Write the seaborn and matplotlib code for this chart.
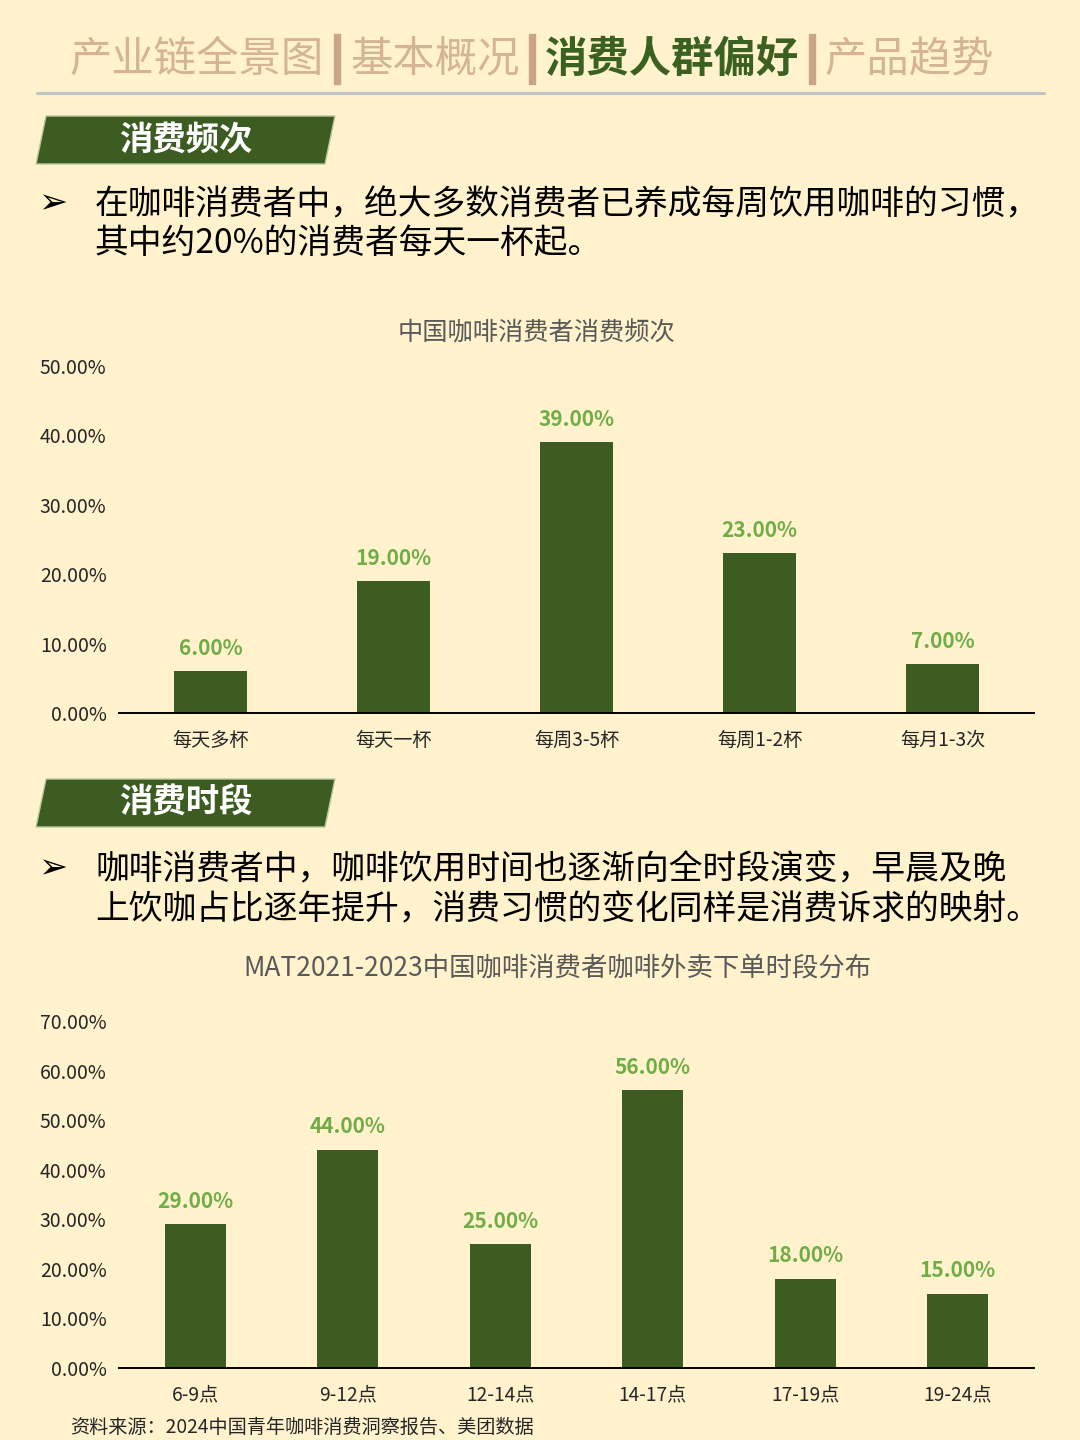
import matplotlib
matplotlib.use("Agg")
import matplotlib.pyplot as plt
from matplotlib.patches import Polygon, Rectangle
from matplotlib.lines import Line2D
import seaborn as sns
import pandas as pd

# ---------------- data ----------------
freq_categories = ["每天多杯", "每天一杯", "每周3-5杯", "每周1-2杯", "每月1-3次"]
freq_values = [6, 19, 39, 23, 7]
freq_yticks = [0, 10, 20, 30, 40, 50]

time_categories = ["6-9点", "9-12点", "12-14点", "14-17点", "17-19点", "19-24点"]
time_values = [29, 44, 25, 56, 18, 15]
time_yticks = [0, 10, 20, 30, 40, 50, 60, 70]

header_items = ["产业链全景图", "基本概况", "消费人群偏好", "产品趋势"]
header_active = 2
section_titles = ["消费频次", "消费时段"]
bullet_texts = [
    ["在咖啡消费者中，绝大多数消费者已养成每周饮用咖啡的习惯，",
     "其中约20%的消费者每天一杯起。"],
    ["咖啡消费者中，咖啡饮用时间也逐渐向全时段演变，早晨及晚",
     "上饮咖占比逐年提升，消费习惯的变化同样是消费诉求的映射。"],
]
chart_titles = ["中国咖啡消费者消费频次", "MAT2021-2023中国咖啡消费者咖啡外卖下单时段分布"]
source_text = "资料来源：2024中国青年咖啡消费洞察报告、美团数据"

# ---------------- style ----------------
BG = "#FFF2CC"
BAR = "#3D5C21"
LABEL = "#70AD47"
TAN = "#D4B396"
TAN_BAR = "#CBA386"
GREEN_HDR = "#3B6121"
TITLE_C = "#595959"
TICK_C = "#262626"

sns.set_theme(style="white")
plt.rcParams["font.family"] = ["Noto Sans CJK SC", "DejaVu Sans"]
plt.rcParams["axes.unicode_minus"] = False

W, H = 1080, 1440
fig = plt.figure(figsize=(W / 100, H / 100), dpi=100)
fig.patch.set_facecolor(BG)


def fx(x):
    return x / W


def fy(y):
    return 1 - y / H


# ---------------- header ----------------
header_x = [70, 350, 545, 825]
for i, (txt, x) in enumerate(zip(header_items, header_x)):
    active = i == header_active
    fig.text(fx(x), fy(60), txt, fontsize=30.5, ha="left", va="center",
             color=GREEN_HDR if active else TAN,
             fontweight="bold" if active else "normal")
for bx in [334, 529, 809]:
    fig.patches.append(Rectangle((fx(bx), fy(84)), fx(6), 50 / H,
                                 transform=fig.transFigure, color=TAN_BAR, zorder=3))
fig.add_artist(Line2D([fx(37), fx(1044)], [fy(93), fy(93)], transform=fig.transFigure,
                      color="#BFC3C6", linewidth=2.2))

# ---------------- section banners & bullets ----------------
banner_tops = [116, 779]
bullet_lines_y = [(205, 243), (870, 910)]
for title, top, lines, ys in zip(section_titles, banner_tops, bullet_texts, bullet_lines_y):
    bot = top + 48
    poly = Polygon([(fx(46), fy(top)), (fx(335), fy(top)), (fx(325), fy(bot)), (fx(36), fy(bot))],
                   closed=True, transform=fig.transFigure, facecolor="#3D5C22",
                   edgecolor="#B9C9A0", linewidth=1.0)
    fig.patches.append(poly)
    fig.text(fx(186), fy(top + 24), title, fontsize=24, fontweight="bold", color="white",
             ha="center", va="center")
    fig.text(fx(38), fy(ys[0] - 2), "➢", fontsize=25, ha="left", va="center",
             color="black", family=["DejaVu Sans"], fontweight="bold")
    for line, y in zip(lines, ys):
        fig.text(fx(95), fy(y), line, fontsize=24.3, ha="left", va="center", color="black")


# ---------------- charts ----------------
def draw_chart(cats, vals, yticks, top_px, bottom_px, title, title_y, title_x, title_fs):
    ax = fig.add_axes([fx(119), fy(bottom_px), fx(1034) - fx(119), (bottom_px - top_px) / H])
    df = pd.DataFrame({"cat": cats, "val": vals})
    sns.barplot(data=df, x="cat", y="val", color=BAR, saturation=1, width=0.4, ax=ax,
                linewidth=0, edgecolor=BAR)
    ax.set_facecolor("none")
    ax.set_ylim(yticks[0], yticks[-1])
    ax.set_xlim(-0.5, len(cats) - 0.5)
    ax.set_yticks(yticks)
    ax.set_yticklabels([f"{t:.2f}%" for t in yticks], fontsize=14, color=TICK_C)
    ax.set_xticks(range(len(cats)))
    ax.set_xticklabels(cats, fontsize=13.8, color=TICK_C)
    ax.set_xticks([i - 0.5 for i in range(len(cats) + 1)], minor=True)
    ax.tick_params(axis="x", which="major", length=0, pad=12)
    ax.tick_params(axis="x", which="minor", length=5, width=1.4, color="black", direction="out")
    ax.tick_params(axis="y", length=0, pad=9)
    ax.set_xlabel("")
    ax.set_ylabel("")
    for s in ["top", "right", "left"]:
        ax.spines[s].set_visible(False)
    ax.spines["bottom"].set_color("black")
    ax.spines["bottom"].set_linewidth(1.4)
    ax.grid(False)
    for cont in ax.containers:
        ax.bar_label(cont, labels=[f"{v:.2f}%" for v in vals], padding=9,
                     fontsize=15, fontweight="bold", color=LABEL)
    fig.text(fx(title_x), fy(title_y), title, fontsize=title_fs, color=TITLE_C,
             ha="center", va="center")
    return ax


draw_chart(freq_categories, freq_values, freq_yticks, 366, 713, chart_titles[0], 333, 537, 18.2)
draw_chart(time_categories, time_values, time_yticks, 1021, 1368, chart_titles[1], 968, 557, 19)

fig.text(fx(70), fy(1427), source_text, fontsize=13.8, color=TICK_C, ha="left", va="center")

fig.savefig("out.png", dpi=100, facecolor=BG)
